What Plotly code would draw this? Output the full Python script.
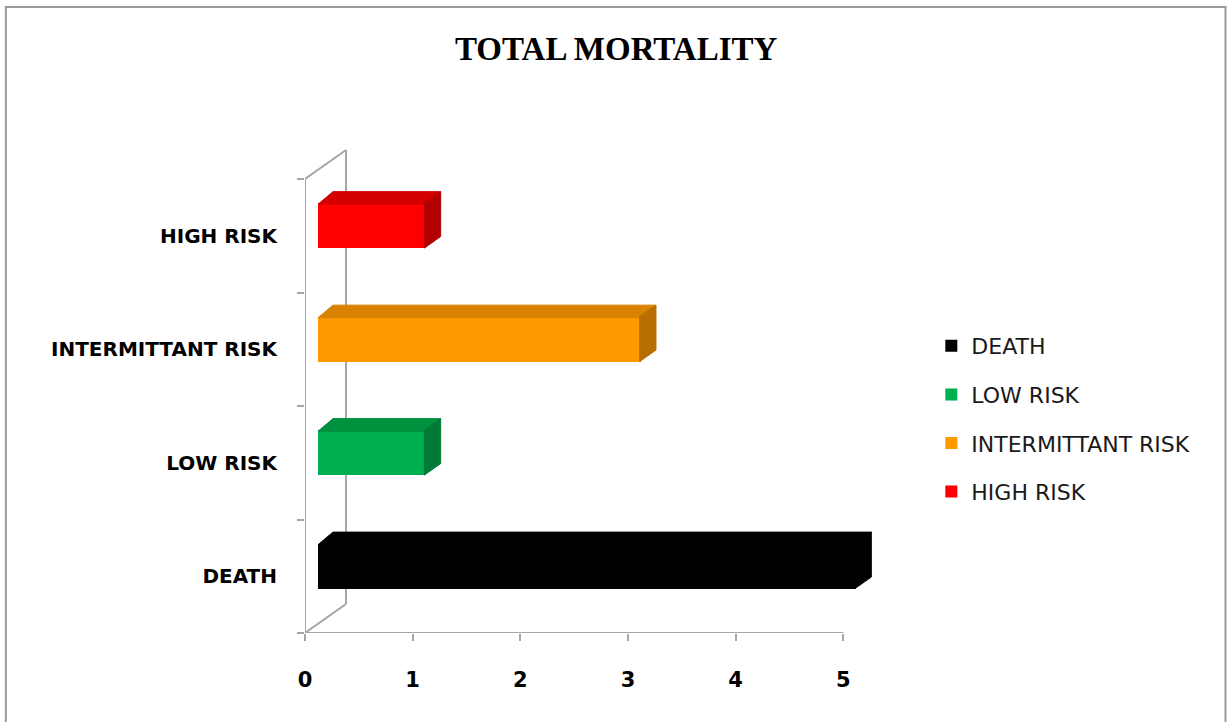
import plotly.graph_objects as go

# Chart data
categories = ["DEATH", "LOW RISK", "INTERMITTANT RISK", "HIGH RISK"]
values = [5, 1, 3, 1]
front_colors = ["#000000", "#00B050", "#FF9900", "#FF0000"]
top_colors = ["#000000", "#00913F", "#D88200", "#D40000"]
side_colors = ["#000000", "#007A35", "#B86E00", "#B00000"]
x_ticks = [0, 1, 2, 3, 4, 5]

# 3D look parameters (data units)
BAR_OFF_X = 0.121      # bar front plane offset from front axis plane
BAR_OFF_Y = 0.09
BAR_W = 0.396          # bar thickness in category units
DEPTH_X = 0.139        # bar depth projection
DEPTH_Y = 0.101
WALL_X = 0.381         # back wall offset
WALL_Y = 0.256
SEAM_X = 0.012         # small overlap so the faces join without a gap
SEAM_Y = 0.010

X_MAX = 5.35
Y_LO = -0.5
Y_HI = len(categories) - 0.5
Y_TOP = Y_HI + 0.344

GRAY = "#A6A6A6"

fig = go.Figure()

for i, (cat, v) in enumerate(zip(categories, values)):
    yc = i + BAR_OFF_Y
    yb = yc - BAR_W / 2
    yt = yc + BAR_W / 2
    x0 = BAR_OFF_X
    x1 = BAR_OFF_X + v
    # top face
    fig.add_trace(go.Scatter(
        x=[x0, x1, x1 + DEPTH_X, x0 + DEPTH_X, x0],
        y=[yt - SEAM_Y, yt - SEAM_Y, yt + DEPTH_Y, yt + DEPTH_Y, yt - SEAM_Y],
        fill="toself", fillcolor=top_colors[i], mode="lines",
        line=dict(width=1, color=top_colors[i]),
        showlegend=False, hoverinfo="skip"))
    # side face
    fig.add_trace(go.Scatter(
        x=[x1 - SEAM_X, x1 - SEAM_X, x1 + DEPTH_X, x1 + DEPTH_X, x1 - SEAM_X],
        y=[yb, yt, yt + DEPTH_Y, yb + DEPTH_Y, yb],
        fill="toself", fillcolor=side_colors[i], mode="lines",
        line=dict(width=1, color=side_colors[i]),
        showlegend=False, hoverinfo="skip"))

# front faces (legend entries)
for i, (cat, v) in enumerate(zip(categories, values)):
    fig.add_trace(go.Bar(
        x=[v], y=[i + BAR_OFF_Y], base=BAR_OFF_X, orientation="h",
        width=BAR_W, name=cat,
        marker=dict(color=front_colors[i], line=dict(width=0)),
        legendgroup=cat, hovertemplate=f"{cat}: %{{x}}<extra></extra>"))

# empty trace on the secondary y axis so its ticks get drawn
fig.add_trace(go.Scatter(x=[None], y=[None], yaxis="y2", showlegend=False, hoverinfo="skip"))

line_style = dict(color=GRAY, width=2)
shapes = [
    # front left axis
    dict(type="line", x0=0, x1=0, y0=Y_LO, y1=Y_HI, line=line_style),
    # bottom axis
    dict(type="line", x0=0, x1=max(x_ticks), y0=Y_LO, y1=Y_LO, line=line_style),
    # back wall
    dict(type="line", x0=WALL_X, x1=WALL_X, y0=Y_LO + WALL_Y, y1=Y_HI + WALL_Y,
         line=line_style, layer="below"),
    dict(type="line", x0=0, x1=WALL_X, y0=Y_HI, y1=Y_HI + WALL_Y, line=line_style, layer="below"),
    dict(type="line", x0=0, x1=WALL_X, y0=Y_LO, y1=Y_LO + WALL_Y, line=line_style, layer="below"),
]
for s in shapes:
    s.update(xref="x", yref="y")

# outer chart frame
ML, PW = 305, 575.7
MT, PH = 140, 493
def px_x(p):
    return (p - ML) / PW
def px_y(q):
    return (MT + PH - q) / PH
shapes.append(dict(type="rect", xref="paper", yref="paper",
                   x0=px_x(6), x1=px_x(1225), y0=px_y(740), y1=px_y(7),
                   line=dict(color="#9A9A9A", width=2), layer="below"))

fig.update_layout(
    width=1227, height=722,
    margin=dict(l=ML, r=1227 - ML - PW, t=MT, b=722 - MT - PH),
    paper_bgcolor="white", plot_bgcolor="white",
    title=dict(text="TOTAL MORTALITY", x=px_x(616), xanchor="center",
               y=1 - 48 / 722, yanchor="middle", xref="paper",
               font=dict(family="Liberation Serif", size=33, color="black", weight="bold")),
    showlegend=True,
    legend=dict(x=px_x(931), xanchor="left", y=px_y(325), yanchor="top",
                font=dict(family="DejaVu Sans", size=22, color="#1a1a1a"),
                tracegroupgap=17, traceorder="grouped", bgcolor="rgba(0,0,0,0)"),
    xaxis=dict(range=[0, X_MAX], tickvals=x_ticks, ticktext=[str(t) for t in x_ticks],
               showgrid=False, zeroline=False, showline=False,
               ticks="outside", ticklen=7, tickwidth=2, tickcolor=GRAY,
               ticklabelstandoff=21,
               tickfont=dict(family="DejaVu Sans", size=21, color="black", weight="bold")),
    yaxis=dict(range=[Y_LO, Y_TOP], tickvals=list(range(len(categories))), ticktext=categories,
               showgrid=False, zeroline=False, showline=False, ticks="",
               ticklabelstandoff=27,
               tickfont=dict(family="DejaVu Sans", size=20, color="black", weight="bold")),
    yaxis2=dict(range=[Y_LO, Y_TOP], overlaying="y", anchor="x", side="left",
                tickvals=[k - 0.5 for k in range(len(categories) + 1)],
                showticklabels=False, showgrid=False, zeroline=False, showline=False,
                ticks="outside", ticklen=7, tickwidth=2, tickcolor=GRAY),
    shapes=shapes,
    bargap=0,
)

fig.write_html("out.html")
